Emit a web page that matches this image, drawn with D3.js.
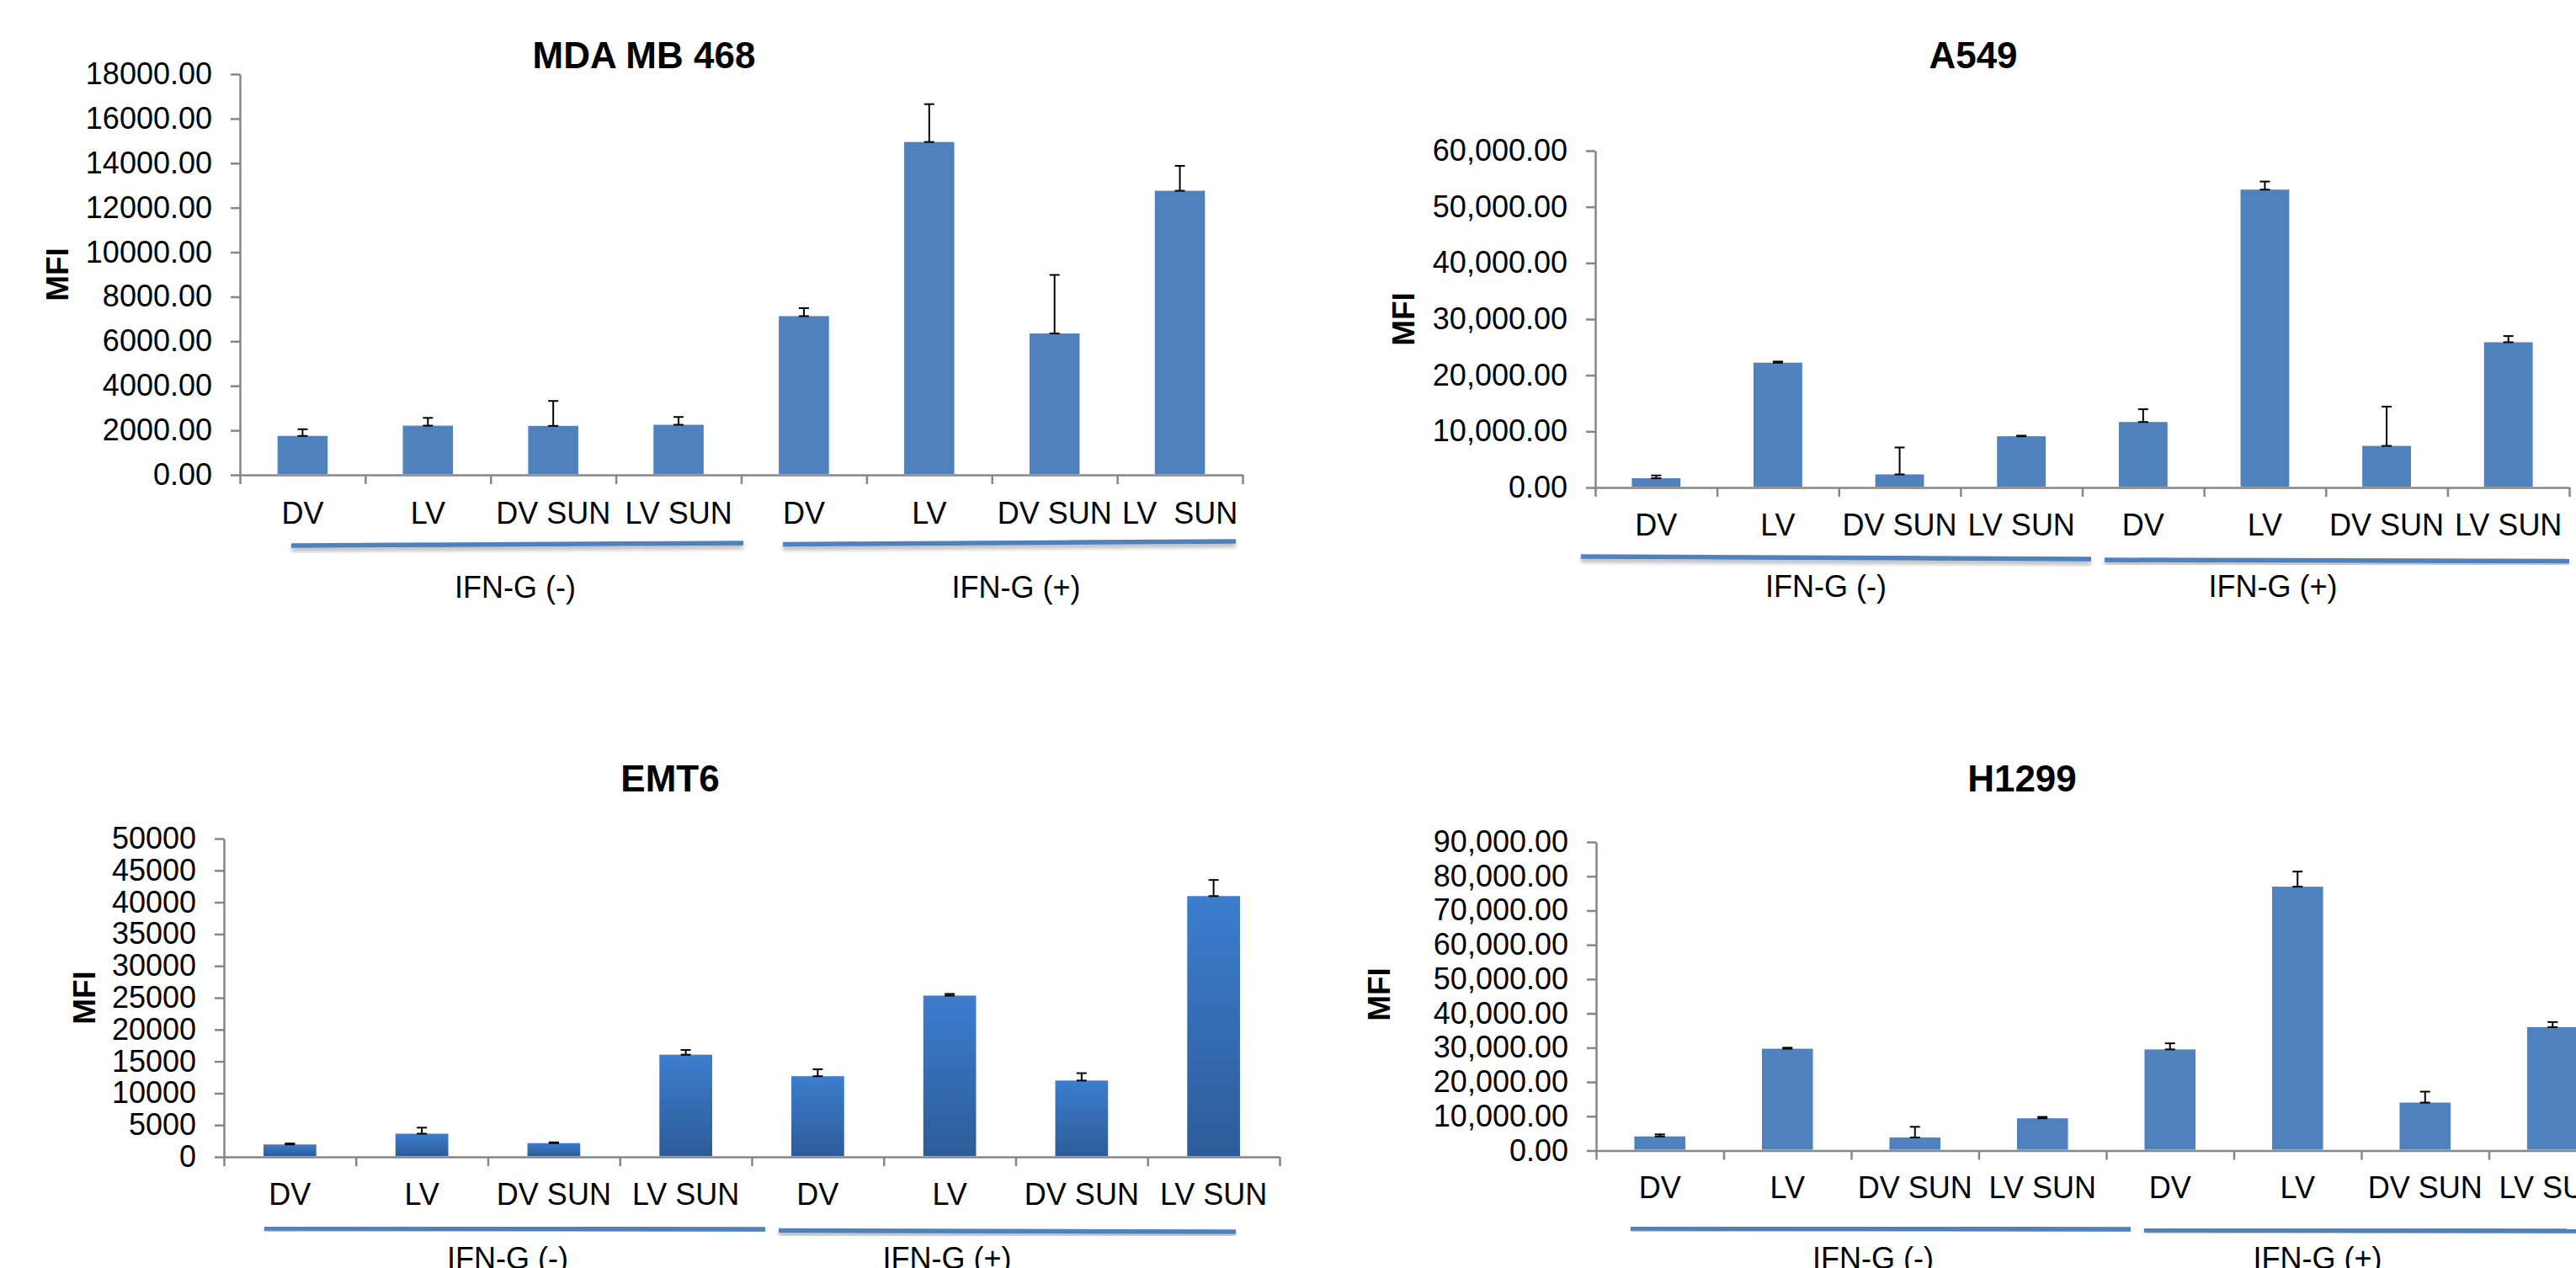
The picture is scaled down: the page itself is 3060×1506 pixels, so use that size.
<!DOCTYPE html>
<html>
<head>
<meta charset="utf-8">
<script src="https://cdn.jsdelivr.net/npm/d3@7"></script>
<style>
  body { margin: 0; background: #fff; overflow: hidden; }
  text { font-family: "Liberation Sans", Arial, sans-serif; fill: #000; }
</style>
</head>
<body>
<div id="charts"></div>
<script>
// Define SVG area dimensions
var svgWidth = 3060;
var svgHeight = 1506;

// category + group labels
var categories = ["DV", "LV", "DV SUN", "LV SUN", "DV", "LV", "DV SUN", "LV SUN"];
var categoriesMDA = ["DV", "LV", "DV SUN", "LV SUN", "DV", "LV", "DV SUN", "LV  SUN"];
var groupLabels = ["IFN-G (-)", "IFN-G (+)"];

// MDA MB 468
var mdaValues = [1750, 2210, 2200, 2250, 7130, 14950, 6350, 12760];
var mdaErrors = [300, 350, 1120, 350, 360, 1700, 2630, 1120];
var mdaTicks = [0, 2000, 4000, 6000, 8000, 10000, 12000, 14000, 16000, 18000];

// A549
var a549Values = [1650, 22240, 2330, 9130, 11670, 53070, 7410, 25880];
var a549Errors = [500, 200, 4800, 100, 2270, 1440, 7000, 1100];
var a549Ticks = [0, 10000, 20000, 30000, 40000, 50000, 60000];

// EMT6
var emt6Values = [1950, 3640, 2160, 16050, 12670, 25340, 11990, 40970];
var emt6Errors = [150, 950, 120, 740, 1100, 260, 1160, 2530];
var emt6Ticks = [0, 5000, 10000, 15000, 20000, 25000, 30000, 35000, 40000, 45000, 50000];

// H1299
var h1299Values = [4120, 29700, 3820, 9410, 29500, 76960, 13990, 36000];
var h1299Errors = [600, 300, 3100, 400, 1770, 4400, 3190, 1480];
var h1299Ticks = [0, 10000, 20000, 30000, 40000, 50000, 60000, 70000, 80000, 90000];

var barBlue = "#4F81BD";
var axisGray = "#868686";

var svg = d3.select("#charts").append("svg")
  .attr("width", svgWidth)
  .attr("height", svgHeight);

var defs = svg.append("defs");

// shadow under the group lines
var shadow = defs.append("filter")
  .attr("id", "lineShadow")
  .attr("x", "-5%").attr("y", "-200%")
  .attr("width", "110%").attr("height", "600%");
shadow.append("feDropShadow")
  .attr("dx", 0).attr("dy", 4)
  .attr("stdDeviation", 2.5)
  .attr("flood-color", "#000")
  .attr("flood-opacity", 0.3);

// gradient fill for the EMT6 bars
var grad = defs.append("linearGradient")
  .attr("id", "emtGrad")
  .attr("x1", 0).attr("y1", 0).attr("x2", 0).attr("y2", 1);
grad.append("stop").attr("offset", "0%").attr("stop-color", "#3C7DCE");
grad.append("stop").attr("offset", "100%").attr("stop-color", "#2D5C98");

var charts = [
  {
    title: "MDA MB 468", cats: categoriesMDA, values: mdaValues, errors: mdaErrors, ticks: mdaTicks,
    format: d3.format(".2f"), fill: barBlue,
    x0: 285, x1: 1476, y0: 564, yTop: 88,
    titleX: 765, titleY: 81, mfiX: 68, mfiY: 326, catY: 622,
    lines: [[346, 648, 883, 645], [930, 646.5, 1468, 643]],
    groupX: [612, 1207], groupY: 710
  },
  {
    title: "A549", cats: categories, values: a549Values, errors: a549Errors, ticks: a549Ticks,
    format: d3.format(",.2f"), fill: barBlue,
    x0: 1895, x1: 3052, y0: 579, yTop: 179,
    titleX: 2344, titleY: 81, mfiX: 1667, mfiY: 379, catY: 636,
    lines: [[1878, 661, 2484, 664], [2500, 665, 3052, 666.5]],
    groupX: [2169, 2700], groupY: 709
  },
  {
    title: "EMT6", cats: categories, values: emt6Values, errors: emt6Errors, ticks: emt6Ticks,
    format: d3.format("d"), fill: "url(#emtGrad)",
    x0: 266, x1: 1520, y0: 1374, yTop: 996,
    titleX: 796, titleY: 940, mfiX: 100, mfiY: 1185, catY: 1431,
    lines: [[314, 1459, 909, 1460], [925, 1461.5, 1468, 1463]],
    groupX: [603, 1125], groupY: 1507
  },
  {
    title: "H1299", cats: categories, values: h1299Values, errors: h1299Errors, ticks: h1299Ticks,
    format: d3.format(",.2f"), fill: barBlue,
    x0: 1896, x1: 3108, y0: 1366.5, yTop: 1000,
    titleX: 2402, titleY: 940, mfiX: 1638, mfiY: 1181, catY: 1423,
    lines: [[1937, 1459, 2531, 1460], [2547, 1461, 3075, 1462]],
    groupX: [2225, 2753], groupY: 1507
  }
];

function drawChart(c) {
  var g = svg.append("g");

  // band scale: bar = 40% of the category step, centred
  var xBand = d3.scaleBand()
    .domain(d3.range(c.values.length))
    .range([c.x0, c.x1])
    .paddingInner(0.6)
    .paddingOuter(0.3);
  // boundaries between categories (tick marks)
  var xEdge = d3.scaleLinear()
    .domain([0, c.values.length])
    .range([c.x0, c.x1]);
  var yScale = d3.scaleLinear()
    .domain([0, c.ticks[c.ticks.length - 1]])
    .range([c.y0, c.yTop]);

  // y axis
  var leftAxis = d3.axisLeft(yScale)
    .tickValues(c.ticks)
    .tickFormat(c.format)
    .tickSize(11)
    .tickSizeOuter(0)
    .tickPadding(22);
  var yAxis = g.append("g")
    .attr("transform", `translate(${c.x0}, 0)`)
    .call(leftAxis)
    .attr("font-size", 36)
    .attr("font-family", null);
  yAxis.selectAll("path, line")
    .attr("stroke", axisGray)
    .attr("stroke-width", 2.5);

  // x axis with ticks between categories
  var bottomAxis = d3.axisBottom(xEdge)
    .tickValues(d3.range(c.values.length + 1))
    .tickFormat("")
    .tickSize(11)
    .tickSizeOuter(0);
  var xAxis = g.append("g")
    .attr("transform", `translate(0, ${c.y0})`)
    .call(bottomAxis);
  xAxis.selectAll("path, line")
    .attr("stroke", axisGray)
    .attr("stroke-width", 2.5);

  // bars
  g.selectAll(".bar")
    .data(c.values)
    .enter()
    .append("rect")
    .attr("class", "bar")
    .attr("x", (d, i) => xBand(i))
    .attr("y", d => yScale(d))
    .attr("width", xBand.bandwidth())
    .attr("height", d => c.y0 - 1 - yScale(d))
    .attr("fill", c.fill);

  // error bars (plus direction, capped)
  var errG = g.selectAll(".err")
    .data(c.values)
    .enter()
    .append("g")
    .attr("class", "err")
    .attr("stroke", "#000")
    .attr("stroke-width", 2);
  errG.append("line")
    .attr("x1", (d, i) => xBand(i) + xBand.bandwidth() / 2)
    .attr("x2", (d, i) => xBand(i) + xBand.bandwidth() / 2)
    .attr("y1", d => yScale(d))
    .attr("y2", (d, i) => yScale(d + c.errors[i]));
  errG.append("line")
    .attr("x1", (d, i) => xBand(i) + xBand.bandwidth() / 2 - 6)
    .attr("x2", (d, i) => xBand(i) + xBand.bandwidth() / 2 + 6)
    .attr("y1", (d, i) => yScale(d + c.errors[i]))
    .attr("y2", (d, i) => yScale(d + c.errors[i]));
  errG.append("line")
    .attr("x1", (d, i) => xBand(i) + xBand.bandwidth() / 2 - 6)
    .attr("x2", (d, i) => xBand(i) + xBand.bandwidth() / 2 + 6)
    .attr("y1", d => yScale(d))
    .attr("y2", d => yScale(d));

  // category labels
  g.selectAll(".cat")
    .data(c.cats)
    .enter()
    .append("text")
    .attr("class", "cat")
    .attr("x", (d, i) => xBand(i) + xBand.bandwidth() / 2)
    .attr("y", c.catY)
    .attr("text-anchor", "middle")
    .attr("font-size", 36)
    .style("white-space", "pre")
    .text(d => d);

  // group underlines
  g.selectAll(".grpline")
    .data(c.lines)
    .enter()
    .append("line")
    .attr("x1", d => d[0]).attr("y1", d => d[1])
    .attr("x2", d => d[2]).attr("y2", d => d[3])
    .attr("stroke", barBlue)
    .attr("stroke-width", 5.5)
    .attr("filter", "url(#lineShadow)");

  g.selectAll(".grp")
    .data(groupLabels)
    .enter()
    .append("text")
    .attr("x", (d, i) => c.groupX[i])
    .attr("y", c.groupY)
    .attr("text-anchor", "middle")
    .attr("font-size", 36)
    .text(d => d);

  // title
  g.append("text")
    .attr("x", c.titleX)
    .attr("y", c.titleY)
    .attr("text-anchor", "middle")
    .attr("font-size", 44)
    .attr("font-weight", "bold")
    .text(c.title);

  // y axis label
  g.append("text")
    .attr("transform", `translate(${c.mfiX}, ${c.mfiY}) rotate(-90)`)
    .attr("dy", "0.36em")
    .attr("text-anchor", "middle")
    .attr("font-size", 37)
    .attr("font-weight", "bold")
    .text("MFI");
}

charts.forEach(function(c) {
  drawChart(c);
});
</script>
</body>
</html>
